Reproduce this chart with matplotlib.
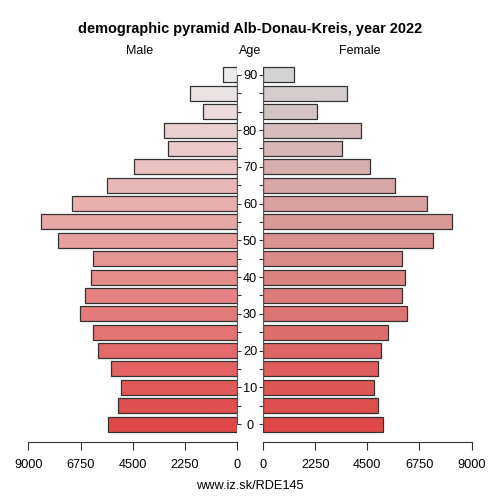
import matplotlib
matplotlib.use('Agg')
import matplotlib.pyplot as plt
from matplotlib.colors import LinearSegmentedColormap

plt.rcParams['font.family'] = ['Liberation Sans', 'DejaVu Sans']

# rows are ordinal: three age groups sit between the 80 and 90 labels
rows = list(range(20))
male = [5560, 5140, 5000, 5460, 5990, 6210, 6770, 6580, 6290, 6210,
        7720, 8470, 7110, 5620, 4440, 2970, 3170, 1450, 2045, 620]
female = [5180, 4950, 4810, 4980, 5110, 5410, 6220, 5990, 6130, 5990,
          7330, 8150, 7070, 5690, 4640, 3430, 4210, 2320, 3640, 1330]
age_labels = ['0', '', '10', '', '20', '', '30', '', '40', '', '50', '', '60', '', '70', '', '80', '', '', '90']
x_ticks = [0, 2250, 4500, 6750, 9000]

W = 500.0
px_per_row = (424 - 130) / 16
y_bottom = -(442 - 424) / px_per_row
y_top = 19 + (75 - 60) / px_per_row
bar_h = 15 / px_per_row

cmap_m = LinearSegmentedColormap.from_list('m', ['#E04848', '#EBEBEB'])
cmap_f = LinearSegmentedColormap.from_list('f', ['#E04848', '#D3D3D3'])

fig = plt.figure(figsize=(5, 5), dpi=100)
ax_l = fig.add_axes([28.5 / W, (W - 442) / W, (237 - 28.5) / W, (442 - 60) / W])
ax_r = fig.add_axes([263 / W, (W - 442) / W, (471.5 - 263) / W, (442 - 60) / W])

ax_l.barh(rows, male, height=bar_h, color=[cmap_m(r / 19) for r in rows],
          edgecolor='#333333', linewidth=0.9)
ax_r.barh(rows, female, height=bar_h, color=[cmap_f(r / 19) for r in rows],
          edgecolor='#333333', linewidth=0.9)

ax_l.set_xlim(9000, 0)
ax_r.set_xlim(0, 9000)

for ax in (ax_l, ax_r):
    ax.set_ylim(y_bottom, y_top)
    ax.set_xticks(x_ticks)
    ax.set_xticklabels([str(t) for t in x_ticks])
    ax.tick_params(axis='x', length=5.5, width=0.8, color='#333333', labelsize=9.2, pad=6.5)
    ax.spines['top'].set_visible(False)
    ax.spines['bottom'].set_bounds(0, 9000)
    ax.spines['bottom'].set_color('#333333')
    ax.patch.set_visible(False)

# age axis on both inner sides
ax_l.spines['left'].set_visible(False)
ax_l.spines['right'].set_bounds(0, 19)
ax_l.spines['right'].set_color('#555555')
ax_l.yaxis.tick_right()
ax_l.set_yticks(rows)
ax_l.set_yticklabels(age_labels, ha='center')
ax_l.tick_params(axis='y', length=3, width=0.8, color='#333333', labelsize=9.2, pad=6.4)

ax_r.spines['right'].set_visible(False)
ax_r.spines['left'].set_bounds(0, 19)
ax_r.spines['left'].set_color('#555555')
ax_r.set_yticks(rows)
ax_r.set_yticklabels([])
ax_r.tick_params(axis='y', length=3, width=0.8, color='#333333')

fig.text(250 / W, 1 - 29.5 / W, 'demographic pyramid Alb-Donau-Kreis, year 2022',
         ha='center', va='center', fontsize=10.45, fontweight='bold')
fig.text(140 / W, 1 - 51 / W, 'Male', ha='center', va='center', fontsize=9)
fig.text(250 / W, 1 - 51 / W, 'Age', ha='center', va='center', fontsize=9)
fig.text(360 / W, 1 - 51 / W, 'Female', ha='center', va='center', fontsize=9)
fig.text(250 / W, 1 - 486 / W, 'www.iz.sk/RDE145', ha='center', va='center', fontsize=9.2)

fig.savefig('out.png', dpi=100)
